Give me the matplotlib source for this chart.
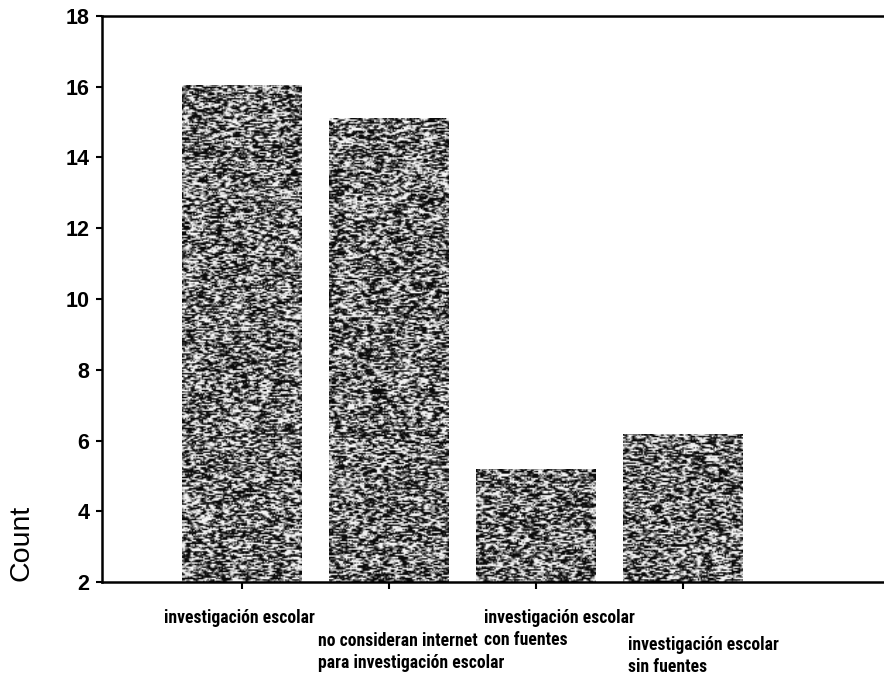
import numpy as np
import matplotlib
matplotlib.use("Agg")
import matplotlib.pyplot as plt
from matplotlib import transforms

categorias = [
    "investigación escolar",
    "no consideran internet\npara investigación escolar",
    "investigación escolar\ncon fuentes",
    "investigación escolar\nsin fuentes",
]
conteos = [16.05, 15.1, 5.2, 6.2]
ticks_y = [2, 4, 6, 8, 10, 12, 14, 16, 18]

fig = plt.figure(figsize=(8.84, 6.85), dpi=100)
ax = fig.add_axes([0.115, 0.150, 0.885, 0.827])

pos = np.arange(len(categorias))
barras = ax.bar(pos, conteos, width=0.81, color="#5a5a5a", linewidth=0, zorder=1)
ax.set_xlim(-0.952, 4.367)
ax.set_ylim(2, 18)

# textura granulada tipo fotocopia dentro de cada barra
rng = np.random.default_rng(7)
y_min = ax.get_ylim()[0]
for b in barras:
    x0, w, h = b.get_x(), b.get_width(), b.get_height()
    filas = int((h - y_min) * 35.4 / 1.4)
    cols = int(w * 147 / 1.4)
    ruido = rng.random((filas, cols))
    suave = (ruido + np.roll(ruido, 1, axis=1) + np.roll(ruido, -1, axis=1)) / 3
    img = np.clip((suave - 0.52) * 3.5 + 0.5, 0.04, 0.95)
    im = ax.imshow(img, extent=(x0, x0 + w, y_min, h), cmap="gray", vmin=0, vmax=1,
                   interpolation="bilinear", aspect="auto", zorder=2)
    im.set_clip_path(b)

ax.set_xlim(-0.952, 4.367)
ax.set_ylim(2, 18)
ax.set_yticks(ticks_y)
ax.set_yticklabels([str(t) for t in ticks_y], fontsize=15.5, fontweight="bold",
                   family="Liberation Sans")
ax.set_xticks(pos)
ax.set_xticklabels([])
ax.tick_params(axis="y", length=4, width=1.5, pad=5)
ax.tick_params(axis="x", length=5, width=1.5)

for lado in ["left", "top", "bottom"]:
    ax.spines[lado].set_linewidth(1.8)
ax.spines["right"].set_visible(False)

# etiquetas escalonadas bajo el eje (alineadas a la izquierda)
trans = transforms.blended_transform_factory(ax.transData, ax.transAxes)
desp_x = [-0.53, -0.483, -0.354, -0.374]
desp_y = [-0.047, -0.088, -0.047, -0.095]
for p, txt, dx, dy in zip(pos, categorias, desp_x, desp_y):
    ax.text(p + dx, dy, txt, transform=trans, ha="left", va="top",
            multialignment="left", fontsize=12.7, fontweight="bold",
            family=["Roboto Condensed", "Roboto", "DejaVu Sans"], linespacing=1.3)

fig.text(21 / 884, 1 - 543 / 685, "Count", rotation=90, ha="center", va="center",
         fontsize=20.5, family="Liberation Sans")

fig.savefig("out.png", dpi=100)
